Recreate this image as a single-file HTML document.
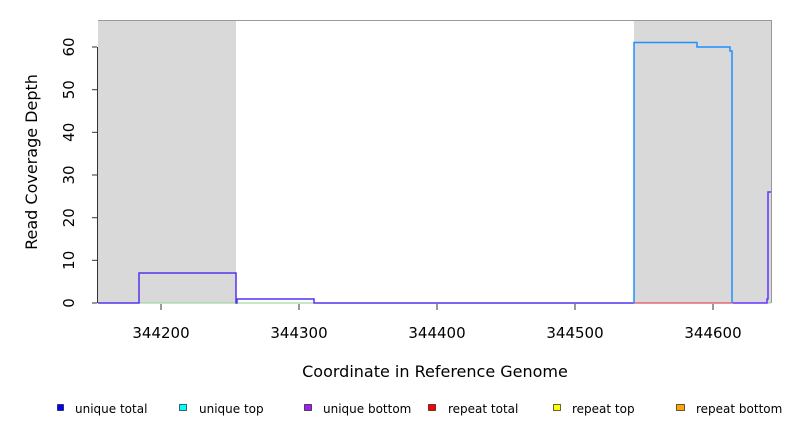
<!DOCTYPE html>
<html><head><style>body{margin:0;background:#fff}svg{font-family:"DejaVu Sans","Liberation Sans",sans-serif}</style></head>
<body><svg width="792" height="432" viewBox="0 0 792 432" xmlns="http://www.w3.org/2000/svg">
<rect x="98" y="20" width="138" height="283" fill="#d9d9d9"/>
<rect x="634" y="20" width="137" height="283" fill="#d9d9d9"/>
<path d="M98 20.5H771.5V303" fill="none" stroke="#999" stroke-width="1"/>
<line x1="97.5" y1="47" x2="97.5" y2="303" stroke="#333"/>
<g stroke="#333"><line x1="92" y1="303" x2="97" y2="303"/><line x1="92" y1="260.3" x2="97" y2="260.3"/><line x1="92" y1="217.7" x2="97" y2="217.7"/><line x1="92" y1="175" x2="97" y2="175"/><line x1="92" y1="132.3" x2="97" y2="132.3"/><line x1="92" y1="89.7" x2="97" y2="89.7"/><line x1="92" y1="47" x2="97" y2="47"/>
<line x1="161" y1="304" x2="161" y2="310"/><line x1="299" y1="304" x2="299" y2="310"/><line x1="437" y1="304" x2="437" y2="310"/><line x1="575" y1="304" x2="575" y2="310"/><line x1="713" y1="304" x2="713" y2="310"/></g>
<g font-size="15" fill="#000" text-anchor="middle">
<text transform="translate(74,303) rotate(-90)">0</text>
<text transform="translate(74,260.3) rotate(-90)">10</text>
<text transform="translate(74,217.7) rotate(-90)">20</text>
<text transform="translate(74,175) rotate(-90)">30</text>
<text transform="translate(74,132.3) rotate(-90)">40</text>
<text transform="translate(74,89.7) rotate(-90)">50</text>
<text transform="translate(74,47) rotate(-90)">60</text>
<text x="161" y="338">344200</text><text x="299" y="338">344300</text><text x="437" y="338">344400</text><text x="575" y="338">344500</text><text x="713" y="338">344600</text>
<text x="435" y="377" font-size="16">Coordinate in Reference Genome</text>
<text transform="translate(37,162) rotate(-90)" font-size="16">Read Coverage Depth</text>
</g>
<line x1="98" y1="303" x2="771" y2="303" stroke="#8fd18f" stroke-width="1"/>
<line x1="634" y1="303" x2="733" y2="303" stroke="#e05060" stroke-width="1.2"/>
<path d="M98 303H139V273H236V303H237V299H314V303H634" fill="none" stroke="#5533ee" stroke-width="1.5"/>
<path d="M733 303H767V299H768V192H771" fill="none" stroke="#6633ff" stroke-width="1.5"/>
<path d="M634 303V42.5H697V47H730V51H732V303" fill="none" stroke="#1e90ff" stroke-width="1.5"/>
<g font-size="12" fill="#000">
<rect x="57.5" y="404.5" width="6" height="6" fill="#0000ff" stroke="#000" stroke-width=".6"/><text x="75" y="413">unique total</text>
<rect x="179.5" y="404.5" width="7" height="6" fill="#00ffff" stroke="#000" stroke-width=".6"/><text x="199" y="413">unique top</text>
<rect x="304.5" y="404.5" width="7" height="6" fill="#a020f0" stroke="#000" stroke-width=".6"/><text x="323" y="413">unique bottom</text>
<rect x="428.5" y="404.5" width="7" height="6" fill="#ff0000" stroke="#000" stroke-width=".6"/><text x="448" y="413">repeat total</text>
<rect x="553.5" y="404.5" width="7" height="6" fill="#ffff00" stroke="#000" stroke-width=".6"/><text x="572" y="413">repeat top</text>
<rect x="676.5" y="404.5" width="8" height="6" fill="#ffa500" stroke="#000" stroke-width=".6"/><text x="696" y="413">repeat bottom</text>
</g>
</svg></body></html>
